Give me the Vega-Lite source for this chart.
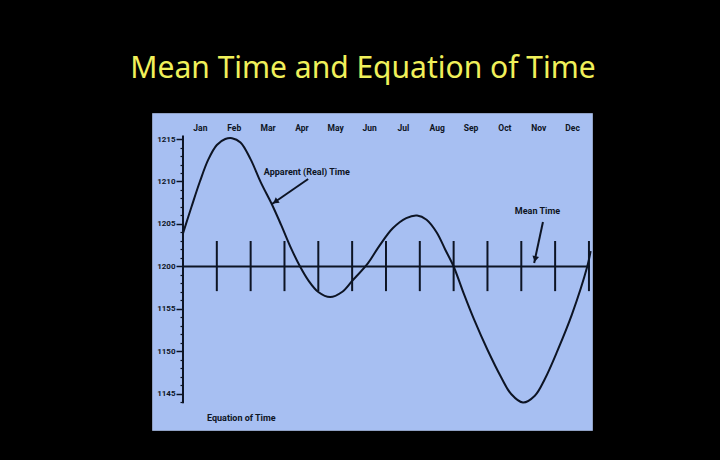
{
  "$schema": "https://vega.github.io/schema/vega-lite/v6.json",
  "autosize": {"type": "none"},
  "padding": {"left": 152, "top": 113, "right": 128, "bottom": 30},
  "width": 440,
  "height": 317,
  "background": "black",
  "view": {"fill": "#a7bff2", "stroke": "#8fa0c4", "strokeWidth": 1},
  "title": {
    "text": "Mean Time and Equation of Time",
    "color": "#f0f05a",
    "font": "Noto Sans",
    "fontSize": 30,
    "fontWeight": "normal",
    "anchor": "middle",
    "baseline": "alphabetic",
    "dx": -9,
    "offset": 5
  },
  "datasets": {
    "curve": [
      {"month": 0, "min": 3.9},
      {"month": 0.25, "min": 7.0},
      {"month": 0.5, "min": 10.0},
      {"month": 0.75, "min": 12.6},
      {"month": 1.0, "min": 14.3},
      {"month": 1.25, "min": 15.0},
      {"month": 1.45, "min": 15.1},
      {"month": 1.7, "min": 14.6},
      {"month": 2.0, "min": 12.6},
      {"month": 2.3, "min": 9.9},
      {"month": 2.63, "min": 7.3},
      {"month": 2.9, "min": 4.9},
      {"month": 3.2, "min": 2.1},
      {"month": 3.46, "min": 0},
      {"month": 3.7, "min": -1.6},
      {"month": 4.0, "min": -3.0},
      {"month": 4.35, "min": -3.6},
      {"month": 4.7, "min": -3.0},
      {"month": 5.0, "min": -1.7},
      {"month": 5.47, "min": 0.4},
      {"month": 5.8, "min": 2.4},
      {"month": 6.2, "min": 4.5},
      {"month": 6.6, "min": 5.7},
      {"month": 6.92, "min": 6.0},
      {"month": 7.2, "min": 5.5},
      {"month": 7.5, "min": 4.0},
      {"month": 7.75, "min": 2.0},
      {"month": 8.0, "min": 0},
      {"month": 8.3, "min": -3.2},
      {"month": 8.6, "min": -6.2},
      {"month": 9.0, "min": -9.8},
      {"month": 9.4, "min": -13.0},
      {"month": 9.7, "min": -15.0},
      {"month": 10.05, "min": -16.0},
      {"month": 10.4, "min": -15.2},
      {"month": 10.7, "min": -13.2},
      {"month": 11.07, "min": -9.9},
      {"month": 11.5, "min": -5.6},
      {"month": 11.95, "min": 0},
      {"month": 12.05, "min": 1.8}
    ],
    "monthTicks": [
      {"month": 1}, {"month": 2}, {"month": 3}, {"month": 4},
      {"month": 5}, {"month": 6}, {"month": 7}, {"month": 8},
      {"month": 9}, {"month": 10}, {"month": 11}, {"month": 12}
    ],
    "arrows": [
      {"x": 3.7, "y": 10.29, "x2": 2.63, "y2": 7.35, "hx": 2.73, "hy": 7.62, "angle": 235},
      {"x": 10.64, "y": 5.24, "x2": 10.38, "y2": 0.41, "hx": 10.41, "hy": 0.87, "angle": 192}
    ],
    "notes": [
      {"month": 2.39, "min": 11.1, "text": "Apparent (Real) Time"},
      {"month": 9.81, "min": 6.53, "text": "Mean Time"},
      {"month": 0.71, "min": -17.84, "text": "Equation of Time"}
    ],
    "one": [{}]
  },
  "layer": [
    {
      "data": {"name": "curve"},
      "mark": {"type": "line", "color": "#0d1424", "strokeWidth": 2, "interpolate": "catmull-rom"},
      "encoding": {
        "x": {
          "field": "month",
          "type": "quantitative",
          "scale": {"domain": [-0.916, 12.09], "nice": false, "zero": false},
          "axis": {
            "orient": "top",
            "title": null,
            "values": [0.5, 1.5, 2.5, 3.5, 4.5, 5.5, 6.5, 7.5, 8.5, 9.5, 10.5, 11.5],
            "tickCount": 100,
            "labelExpr": "['Jan','Feb','Mar','Apr','May','Jun','Jul','Aug','Sep','Oct','Nov','Dec'][floor(datum.value)]",
            "labelOverlap": false,
            "ticks": false,
            "domain": false,
            "grid": false,
            "offset": -14,
            "labelPadding": 0,
            "labelBaseline": "middle",
            "labelFont": "Roboto",
            "labelFontWeight": "bold",
            "labelFontSize": 8.5,
            "labelColor": "#0d1424"
          }
        },
        "y": {
          "field": "min",
          "type": "quantitative",
          "scale": {"domain": [-19.24, 18.06], "nice": false, "zero": false},
          "axis": {
            "orient": "left",
            "title": null,
            "values": [-16, -15, -14, -13, -12, -11, -10, -9, -8, -7, -6, -5, -4, -3, -2, -1, 0, 1, 2, 3, 4, 5, 6, 7, 8, 9, 10, 11, 12, 13, 14, 15],
            "tickCount": 100,
            "labelExpr": "datum.value % 5 != 0 ? '' : (datum.value >= 0 ? '12' + (datum.value < 10 ? '0' : '') + datum.value : '11' + (60 + datum.value))",
            "labelOverlap": false,
            "domain": false,
            "grid": false,
            "offset": -31,
            "tickSize": {"condition": {"test": "datum.value % 5 == 0", "value": 7}, "value": 3},
            "tickWidth": {"condition": {"test": "datum.value % 5 == 0", "value": 1.5}, "value": 1.2},
            "tickColor": "#0d1424",
            "labelPadding": 1,
            "labelFont": "Roboto",
            "labelFontWeight": "bold",
            "labelFontSize": 8,
            "labelColor": "#0d1424"
          }
        }
      }
    },
    {
      "data": {"name": "one"},
      "mark": {"type": "rule", "color": "#0d1424", "strokeWidth": 2},
      "encoding": {
        "x": {"datum": 0, "type": "quantitative"},
        "y": {"datum": -16.1, "type": "quantitative"},
        "y2": {"datum": 15.4}
      }
    },
    {
      "data": {"name": "one"},
      "mark": {"type": "rule", "color": "#0d1424", "strokeWidth": 2},
      "encoding": {
        "x": {"datum": 0, "type": "quantitative"},
        "x2": {"datum": 12.03},
        "y": {"datum": 0, "type": "quantitative"}
      }
    },
    {
      "data": {"name": "monthTicks"},
      "mark": {"type": "rule", "color": "#0d1424", "strokeWidth": 2},
      "encoding": {
        "x": {"field": "month", "type": "quantitative"},
        "y": {"datum": -2.9, "type": "quantitative"},
        "y2": {"datum": 3.0}
      }
    },
    {
      "data": {"name": "arrows"},
      "mark": {"type": "rule", "color": "#0d1424", "strokeWidth": 2},
      "encoding": {
        "x": {"field": "x", "type": "quantitative"},
        "y": {"field": "y", "type": "quantitative"},
        "x2": {"field": "x2"},
        "y2": {"field": "y2"}
      }
    },
    {
      "data": {"name": "arrows"},
      "mark": {"type": "point", "shape": "triangle-up", "filled": true, "color": "#0d1424", "size": 45, "opacity": 1},
      "encoding": {
        "x": {"field": "hx", "type": "quantitative"},
        "y": {"field": "hy", "type": "quantitative"},
        "angle": {"field": "angle", "type": "quantitative", "scale": null}
      }
    },
    {
      "data": {"name": "notes"},
      "mark": {"type": "text", "align": "left", "baseline": "middle", "font": "Roboto", "fontWeight": "bold", "fontSize": 9, "color": "#0d1424"},
      "encoding": {
        "x": {"field": "month", "type": "quantitative"},
        "y": {"field": "min", "type": "quantitative"},
        "text": {"field": "text"}
      }
    }
  ]
}
